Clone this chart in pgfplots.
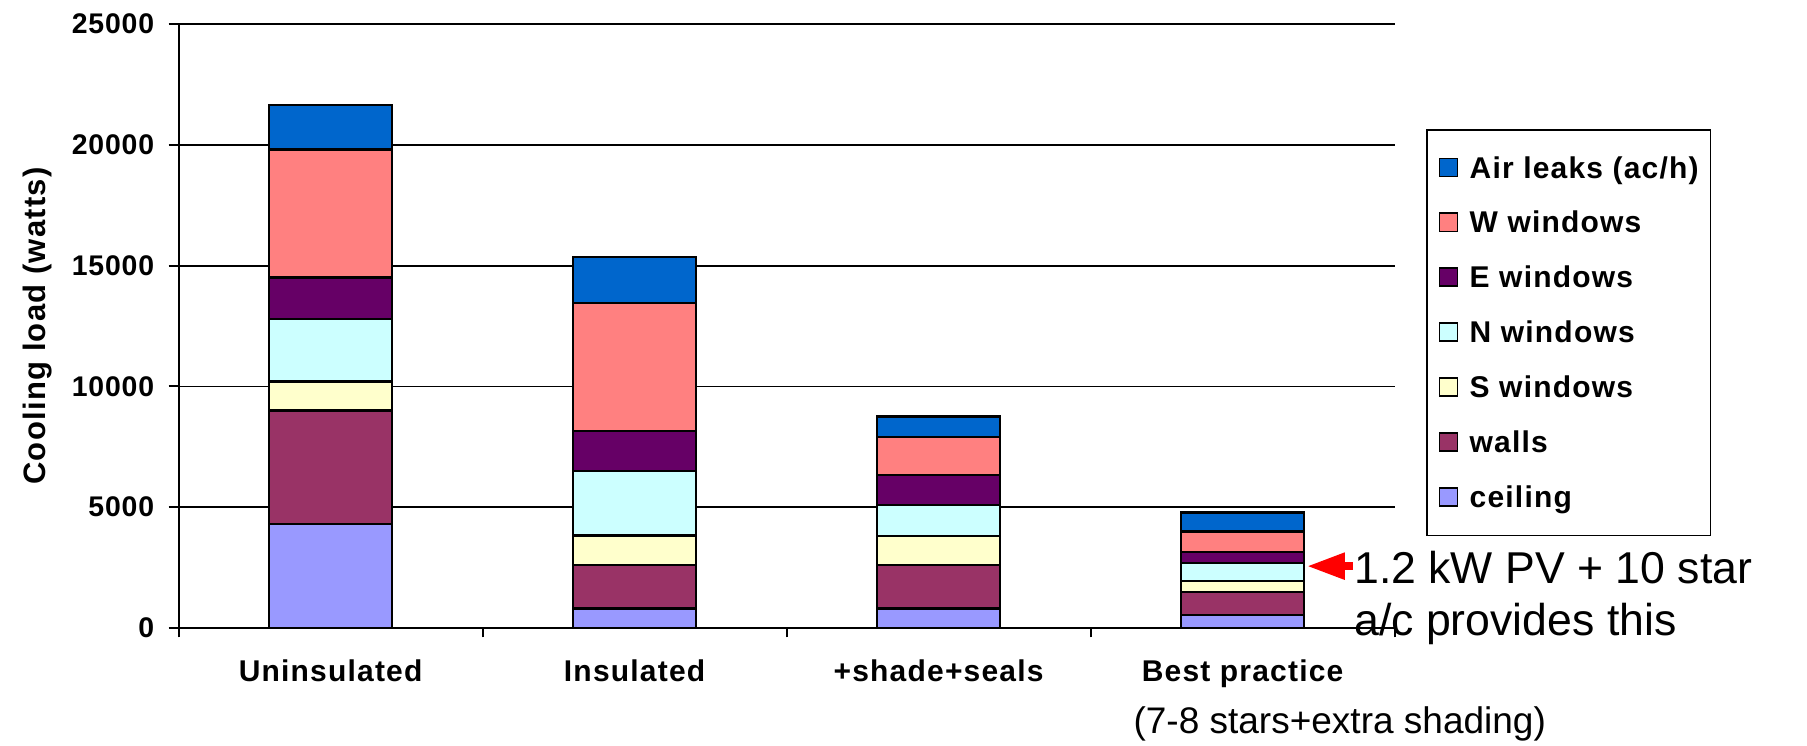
\documentclass[border=0pt]{standalone}
\usepackage{pgfplots}
\pgfplotsset{compat=1.18}
\usetikzlibrary{arrows.meta}
\usepackage{fontspec}
\setmainfont{Liberation Sans}
\newfontfamily\spaced[LetterSpace=4]{Liberation Sans}
\newfontfamily\spacedb[LetterSpace=3]{Liberation Sans}
\newcommand\lblfont{\spaced\bfseries\fontsize{15}{18}\selectfont}
\definecolor{cAir}{HTML}{0066CC}
\definecolor{cW}{HTML}{FF8080}
\definecolor{cE}{HTML}{660066}
\definecolor{cN}{HTML}{CCFFFF}
\definecolor{cS}{HTML}{FFFFCC}
\definecolor{cWall}{HTML}{993366}
\definecolor{cCeil}{HTML}{9999FF}
\begin{document}
\begin{tikzpicture}
\path[use as bounding box] (0,0) rectangle (903.5pt,372.5pt);
\begin{axis}[
  at={(89.3pt,58.5pt)}, anchor=south west,
  scale only axis, width=608pt, height=302pt,
  xmin=-0.5, xmax=3.5, ymin=0, ymax=25000,
  enlargelimits=false, clip=false,
  ybar stacked, bar width=0.405,
  axis x line*=bottom, axis y line*=left,
  axis line style={-, line width=1pt},
  tick align=outside,
  xtick={0,1,2,3},
  xticklabels={Uninsulated, Insulated, +shade+seals, Best practice},
  major x tick style={draw=none},
  minor xtick={-0.5,0.5,1.5,2.5,3.5},
  minor tick length=4.7pt, major tick length=5pt,
  tick style={black, line width=1pt},
  ytick={0,5000,10000,15000,20000,25000},
  scaled y ticks=false,
  /pgf/number format/assume math mode=true,
  /pgf/number format/1000 sep={},
  ymajorgrids, grid style={black, line width=0.9pt},
  xticklabel style={font=\lblfont, anchor=base, inner sep=0pt, yshift=-21.7pt},
  yticklabel style={font=\spacedb\bfseries\fontsize{14.2}{17}\selectfont, anchor=east, inner sep=0pt, xshift=-7pt},
  ylabel={Cooling load (watts)},
  ylabel style={font=\spaced\bfseries\fontsize{15.5}{18}\selectfont, at={(axis description cs:-0.1164,0.5)}, anchor=center},
  legend cell align=left, reverse legend,
  legend style={at={(1.0258,0.826)}, anchor=north west, draw=black, line width=0.9pt,
    inner xsep=5.9pt, inner ysep=7pt, row sep=3.45pt, column sep=5.6pt,
    font=\lblfont, nodes={inner sep=0pt, text height=17.05pt, text depth=6.95pt}},
  legend image code/.code={\draw[#1, line width=0.9pt] (0pt,-4.25pt) rectangle (9pt,4.75pt);},
  every axis plot/.append style={draw=black, line width=1.2pt},
]
\addplot[fill=cCeil] coordinates {(0,4300) (1,800) (2,800) (3,550)};
\addplot[fill=cWall] coordinates {(0,4700) (1,1800) (2,1800) (3,930)};
\addplot[fill=cS] coordinates {(0,1200) (1,1230) (2,1200) (3,470)};
\addplot[fill=cN] coordinates {(0,2600) (1,2670) (2,1300) (3,750)};
\addplot[fill=cE] coordinates {(0,1700) (1,1650) (2,1230) (3,450)};
\addplot[fill=cW] coordinates {(0,5300) (1,5300) (2,1570) (3,850)};
\addplot[fill=cAir] coordinates {(0,1850) (1,1900) (2,850) (3,780)};
\legend{ceiling, walls, S windows, N windows, E windows, W windows, Air leaks (ac/h)}
\draw[draw=red, fill=red, line width=4pt, -{Triangle[length=19pt,width=12.5pt]}] (axis cs:3.362,2560) -- (axis cs:3.211,2560);
\node[anchor=base west, inner sep=0pt, font=\fontsize{22.3}{26}\selectfont] at (axis cs:3.366,1862) {1.2 kW PV + 10 star};
\node[anchor=base west, inner sep=0pt, font=\fontsize{22.3}{26}\selectfont] at (axis cs:3.366,-290) {a/c provides this};
\node[anchor=west, inner sep=0pt, font=\fontsize{18.5}{22}\selectfont] at (axis cs:2.64,-3974) {(7-8 stars+extra shading)};
\end{axis}
\end{tikzpicture}
\end{document}
